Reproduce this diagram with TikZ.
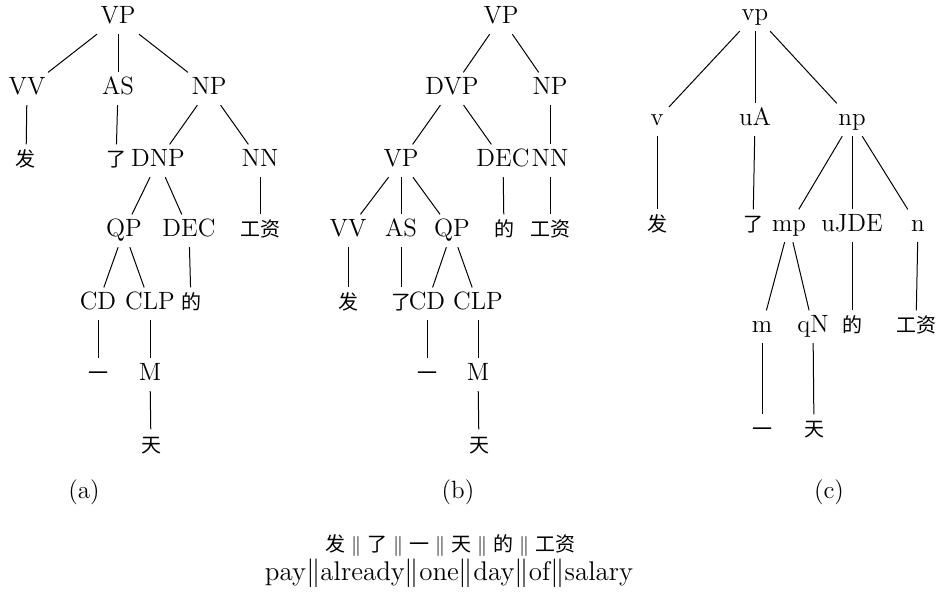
\documentclass[tikz,border=0pt]{standalone}
\usepackage{fontspec}
\newfontfamily\cjkfont{Noto Sans CJK SC}
\newcommand\zhtext[1]{{\fontsize{10}{12}\cjkfont #1}}
\newcommand\zhsep{\hspace{3pt}$\|$\hspace{3pt}}
\begin{document}
\begin{tikzpicture}[x=0.5pt,y=-0.5pt,
  t/.style={anchor=base, inner sep=2.5pt, text height=8.6pt, text depth=2.4pt,
            font=\fontsize{12.5}{14}\selectfont},
  c/.style={t, font=\fontsize{10}{12}\cjkfont},
  lbl/.style={anchor=base, inner sep=0pt, font=\fontsize{12.5}{14}\selectfont},
  captzh/.style={anchor=base, inner sep=0pt, font=\fontsize{10}{12}\selectfont},
  capt/.style={anchor=base, inner sep=0pt, font=\fontsize{13.5}{15}\selectfont},
  br/.style={line width=0.5pt, black}]
\useasboundingbox (0,0) rectangle (936,592);

% ---------- tree (a)
\node[t] (aVP) at (118,24) {VP};
\node[t] (aVV) at (27,95) {VV};
\node[t] (aAS) at (118,95) {AS};
\node[t] (aNP) at (209,95) {NP};
\node[c] (afa) at (26,167) {发};
\node[c] (ale) at (116,167) {了};
\node[t] (aDNP) at (158,167) {DNP};
\node[t] (aNN) at (260,167) {NN};
\node[t] (aQP) at (124,237) {QP};
\node[t] (aDEC) at (189,237) {DEC};
\node[c] (agz) at (260,237) {工资};
\node[t] (aCD) at (98,310) {CD};
\node[t] (aCLP) at (150,310) {CLP};
\node[c] (ade) at (191,310) {的};
\node[c] (ayi) at (98,381) {一};
\node[t] (aM) at (150,381) {M};
\node[c] (atian) at (151,452) {天};
\draw[br] (aVP) -- (aVV);
\draw[br] (aVP) -- (aAS);
\draw[br] (aVP) -- (aNP);
\draw[br] (aVV) -- (afa);
\draw[br] (aAS) -- (ale);
\draw[br] (aNP) -- (aDNP);
\draw[br] (aNP) -- (aNN);
\draw[br] (aDNP) -- (aQP);
\draw[br] (aDNP) -- (aDEC);
\draw[br] (aNN) -- (agz);
\draw[br] (aQP) -- (aCD);
\draw[br] (aQP) -- (aCLP);
\draw[br] (aDEC) -- (ade);
\draw[br] (aCD) -- (ayi);
\draw[br] (aCLP) -- (aM);
\draw[br] (aM) -- (atian);

% ---------- tree (b)
\node[t] (bVP) at (501,24) {VP};
\node[t] (bDVP) at (452,95) {DVP};
\node[t] (bNP) at (550,95) {NP};
\node[t] (bVPb) at (401,167) {VP};
\node[t] (bDEC) at (503,167) {DEC};
\node[t] (bNN) at (550,167) {NN};
\node[t] (bVV) at (348,237) {VV};
\node[t] (bAS) at (401,237) {AS};
\node[t] (bQP) at (452,237) {QP};
\node[c] (bde) at (504,237) {的};
\node[c] (bgz) at (550,237) {工资};
\node[c] (bfa) at (348,310) {发};
\node[c] (ble) at (401,310) {了};
\node[t] (bCD) at (427,310) {CD};
\node[t] (bCLP) at (478,310) {CLP};
\node[c] (byi) at (427,381) {一};
\node[t] (bM) at (478,381) {M};
\node[c] (btian) at (479,452) {天};
\draw[br] (bVP) -- (bDVP);
\draw[br] (bVP) -- (bNP);
\draw[br] (bDVP) -- (bVPb);
\draw[br] (bDVP) -- (bDEC);
\draw[br] (bNP) -- (bNN);
\draw[br] (bVPb) -- (bVV);
\draw[br] (bVPb) -- (bAS);
\draw[br] (bVPb) -- (bQP);
\draw[br] (bDEC) -- (bde);
\draw[br] (bNN) -- (bgz);
\draw[br] (bVV) -- (bfa);
\draw[br] (bAS) -- (ble);
\draw[br] (bQP) -- (bCD);
\draw[br] (bQP) -- (bCLP);
\draw[br] (bCD) -- (byi);
\draw[br] (bCLP) -- (bM);
\draw[br] (bM) -- (btian);

% ---------- tree (c)
\node[t] (cvp) at (755,21) {vp};
\node[t] (cv) at (657,126) {v};
\node[t] (cuA) at (755,126) {uA};
\node[t] (cnp) at (852,126) {np};
\node[c] (cfa) at (657,232) {发};
\node[c] (cle) at (753,232) {了};
\node[t] (cmp) at (789,232) {mp};
\node[t] (cuJDE) at (852,232) {uJDE};
\node[t] (cn) at (918,232) {n};
\node[t] (cm) at (762,333) {m};
\node[t] (cqN) at (813,333) {qN};
\node[c] (cde) at (852,333) {的};
\node[c] (cgz) at (916,333) {工资};
\node[c] (cyi) at (762,437) {一};
\node[c] (ctian) at (814,437) {天};
\draw[br] (cvp) -- (cv);
\draw[br] (cvp) -- (cuA);
\draw[br] (cvp) -- (cnp);
\draw[br] (cv) -- (cfa);
\draw[br] (cuA) -- (cle);
\draw[br] (cnp) -- (cmp);
\draw[br] (cnp) -- (cuJDE);
\draw[br] (cnp) -- (cn);
\draw[br] (cmp) -- (cm);
\draw[br] (cmp) -- (cqN);
\draw[br] (cuJDE) -- (cde);
\draw[br] (cn) -- (cgz);
\draw[br] (cm) -- (cyi);
\draw[br] (cqN) -- (ctian);

% ---------- labels
\node[lbl] (la) at (84,499) {(a)};
\node[lbl] (lb) at (458,499) {(b)};
\node[lbl] (lc) at (829,499) {(c)};
\node[captzh] (cap1) at (450,551) {\zhtext{发}\zhsep\zhtext{了}\zhsep\zhtext{一}\zhsep\zhtext{天}\zhsep\zhtext{的}\zhsep\zhtext{工资}};
\node[capt] (cap2) at (449,580) {pay$\|$already$\|$one$\|$day$\|$of$\|$salary};
\end{tikzpicture}
\end{document}
